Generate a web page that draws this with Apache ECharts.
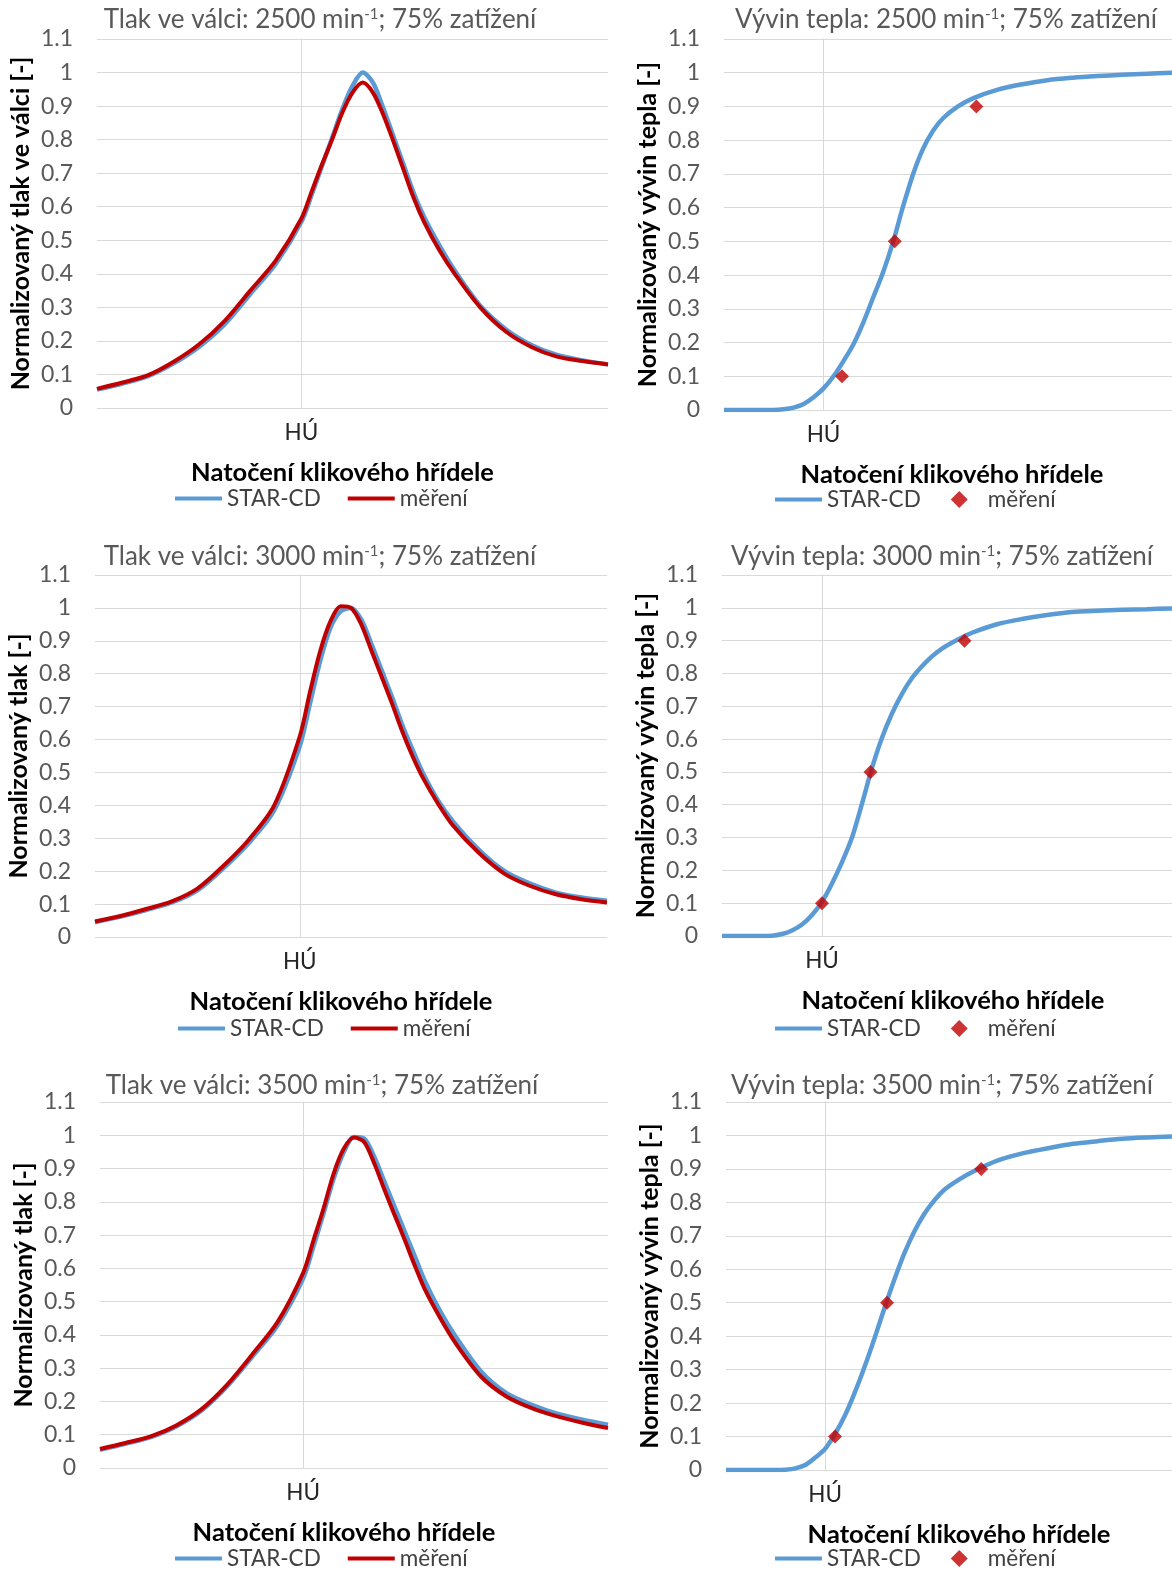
<!DOCTYPE html>
<html><head><meta charset="utf-8">
<script src="https://cdn.jsdelivr.net/npm/echarts@6/dist/echarts.min.js"></script>
<style>html,body{margin:0;padding:0;background:#fff}#c{width:1172px;height:1569px}</style>
</head><body><div id="c"></div>
<script>
// ---- data ----
const pressureAngles = [-40,-35,-30,-25,-20,-15,-10,-5,0,2,4,6,8,10,12,14,16,18,20,22,24,27,30,35,40,45,50,55,60];
const p2500Sim  = [0.055,0.073,0.095,0.133,0.183,0.25,0.34,0.43,0.555,0.635,0.72,0.805,0.89,0.96,1.0,0.97,0.895,0.81,0.725,0.64,0.57,0.485,0.41,0.305,0.235,0.188,0.158,0.142,0.13];
const p2500Meas = [0.057,0.076,0.098,0.138,0.19,0.26,0.35,0.44,0.565,0.645,0.725,0.80,0.88,0.94,0.97,0.94,0.875,0.795,0.71,0.625,0.555,0.47,0.40,0.30,0.228,0.182,0.153,0.14,0.13];
const p3000Sim  = [0.045,0.062,0.082,0.105,0.142,0.208,0.285,0.385,0.58,0.71,0.84,0.94,0.99,1.0,0.965,0.89,0.81,0.73,0.645,0.57,0.50,0.415,0.35,0.265,0.2,0.162,0.135,0.12,0.11];
const p3000Meas = [0.047,0.064,0.085,0.108,0.147,0.215,0.295,0.40,0.61,0.745,0.87,0.96,1.005,1.0,0.95,0.87,0.79,0.71,0.625,0.55,0.485,0.405,0.337,0.255,0.192,0.155,0.13,0.115,0.105];
const p3500Sim  = [0.055,0.073,0.093,0.125,0.173,0.245,0.335,0.43,0.57,0.665,0.765,0.87,0.95,0.995,0.99,0.935,0.86,0.785,0.71,0.635,0.56,0.47,0.395,0.29,0.225,0.19,0.163,0.145,0.13];
const p3500Meas = [0.057,0.075,0.095,0.128,0.177,0.25,0.342,0.44,0.587,0.683,0.78,0.885,0.96,0.993,0.98,0.915,0.836,0.76,0.685,0.607,0.535,0.45,0.375,0.275,0.215,0.18,0.155,0.136,0.12];

const heatAngles = [-20,-15,-10,-8,-6,-4,-2,0,2,4,6,8,10,12,14,16,18,20,22,24,27,30,35,40,45,50,55,60,65,70];
const h2500Sim = [0,0,0,0.002,0.007,0.018,0.038,0.064,0.1,0.145,0.195,0.26,0.335,0.41,0.50,0.605,0.70,0.775,0.828,0.865,0.90,0.924,0.95,0.966,0.978,0.985,0.99,0.994,0.997,1.0];
const h3000Sim = [0,0,0.001,0.006,0.017,0.035,0.064,0.104,0.16,0.225,0.30,0.403,0.512,0.604,0.678,0.738,0.786,0.822,0.852,0.876,0.902,0.924,0.95,0.966,0.978,0.987,0.991,0.994,0.996,0.998];
const h3500Sim = [0,0,0,0.001,0.005,0.015,0.037,0.063,0.108,0.163,0.232,0.31,0.395,0.485,0.57,0.648,0.713,0.765,0.805,0.837,0.868,0.893,0.926,0.947,0.962,0.975,0.983,0.99,0.994,0.997];
const heatMeasValues = [0.1, 0.5, 0.9];
const h2500MeasAngles = [3.7, 14.3, 30.7];
const h3000MeasAngles = [0, 9.7, 28.5];
const h3500MeasAngles = [2, 12.5, 31.5];

const yTickMax = 1.1, yTickStep = 0.1;
const tdcLabel = 'HÚ';
const xName = 'Natočení klikového hřídele';
const simName = 'STAR-CD', measName = 'měření';
const titles = [
  'Tlak ve válci: 2500 min{sup|-1}; 75% zatížení',
  'Vývin tepla: 2500 min{sup|-1}; 75% zatížení',
  'Tlak ve válci: 3000 min{sup|-1}; 75% zatížení',
  'Vývin tepla: 3000 min{sup|-1}; 75% zatížení',
  'Tlak ve válci: 3500 min{sup|-1}; 75% zatížení',
  'Vývin tepla: 3500 min{sup|-1}; 75% zatížení'
];
const yNames = [
  'Normalizovaný tlak ve válci [-]', 'Normalizovaný vývin tepla [-]',
  'Normalizovaný tlak [-]', 'Normalizovaný vývin tepla [-]',
  'Normalizovaný tlak [-]', 'Normalizovaný vývin tepla [-]'
];

// ---- layout / style ----
const FONT = 'Lato';
const BLUE = '#5B9BD5', RED = '#C00000';
const LINE_ICON = 'path://M0,0H100V9H0Z';
const DIAMOND_ICON = 'path://M6,0L12,6L6,12L0,6Z';
const layout = [
  {grid:{left:97, top:39, width:511, height:369}, xr:[-40,60,40], tx:320, ty:7,  leg:{left:175, top:487}, nameShift:-10},
  {grid:{left:724,top:39, width:448, height:371}, xr:[-20,70,20], tx:946, ty:7,  leg:{left:775, top:488}, nameShift:4},
  {grid:{left:95, top:575,width:512, height:362}, xr:[-40,60,40], tx:320, ty:544,leg:{left:178, top:1017}, nameShift:-10},
  {grid:{left:722,top:575,width:450, height:361}, xr:[-20,70,20], tx:942, ty:544,leg:{left:775, top:1017}, nameShift:6},
  {grid:{left:100,top:1102,width:508,height:366}, xr:[-40,60,40], tx:322, ty:1073,leg:{left:175, top:1547}, nameShift:-10},
  {grid:{left:726,top:1102,width:446,height:368}, xr:[-20,70,20], tx:942, ty:1073,leg:{left:775, top:1547}, nameShift:10}
];
const panelSeries = [
  {type:'p', x:pressureAngles, sim:p2500Sim, meas:p2500Meas},
  {type:'h', x:heatAngles, sim:h2500Sim, mx:h2500MeasAngles},
  {type:'p', x:pressureAngles, sim:p3000Sim, meas:p3000Meas},
  {type:'h', x:heatAngles, sim:h3000Sim, mx:h3000MeasAngles},
  {type:'p', x:pressureAngles, sim:p3500Sim, meas:p3500Meas},
  {type:'h', x:heatAngles, sim:h3500Sim, mx:h3500MeasAngles}
];

const option = {animation:false, backgroundColor:'#fff', grid:[], xAxis:[], yAxis:[], title:[], legend:[], series:[]};

panelSeries.forEach((ps, i) => {
  const L = layout[i];
  option.grid.push(Object.assign({containLabel:false, outerBoundsMode:'none'}, L.grid));
  const nTicks = Math.round((L.xr[1]-L.xr[0])/L.xr[2]) + 2;
  const splitColors = [];
  for (let k=0;k<nTicks;k++) splitColors.push(L.xr[0] + k*L.xr[2] === 0 ? '#BFBFBF' : 'rgba(0,0,0,0)');
  option.xAxis.push({
    type:'value', gridIndex:i, min:L.xr[0], max:L.xr[1], interval:L.xr[2],
    axisLine:{show:false}, axisTick:{show:false},
    splitLine:{show:true, lineStyle:{color:splitColors, width:1}},
    axisLabel:{formatter:v => v === 0 ? tdcLabel : '', color:'#262626', fontSize:22.5, fontFamily:FONT, margin:13},
    name:xName, nameLocation:'middle', nameGap:52,
    nameTextStyle:{fontFamily:FONT, fontSize:25.5, fontWeight:'bold', color:'#000', padding:[0, L.nameShift<0?-2*L.nameShift:0, 0, L.nameShift>0?2*L.nameShift:0]}
  });
  option.yAxis.push({
    type:'value', gridIndex:i, min:0, max:yTickMax, interval:yTickStep,
    axisLine:{show:true, lineStyle:{color:'#D9D9D9', width:1}}, axisTick:{show:false},
    splitLine:{show:true, lineStyle:{color:'#D9D9D9', width:1}},
    axisLabel:{color:'#595959', fontSize:23, fontFamily:FONT, margin:24},
    name:yNames[i], nameLocation:'middle', nameGap:64,
    nameTextStyle:{fontFamily:FONT, fontSize:25, fontWeight:'bold', color:'#000'}
  });
  option.title.push({
    text:titles[i], left:L.tx, top:L.ty, textAlign:'center', padding:0,
    textStyle:{fontFamily:FONT, fontSize:26, fontWeight:'normal', color:'#595959',
      rich:{sup:{fontFamily:FONT, fontSize:15, color:'#595959', verticalAlign:'top'}}}
  });
  const sName = simName + '#' + i, mName = measName + '#' + i;
  option.legend.push({
    left:L.leg.left, top:L.leg.top, orient:'horizontal', padding:0,
    itemWidth:47, itemHeight:17, itemGap: ps.type === 'p' ? 27 : 30,
    data:[{name:sName, icon:LINE_ICON}, {name:mName, icon: ps.type === 'p' ? LINE_ICON : DIAMOND_ICON}],
    selectedMode:false,
    formatter:n => n.replace(/#\d+$/, ''),
    textStyle:{fontFamily:FONT, fontSize:22.5, color:'#404040'}
  });
  option.series.push({
    name:sName, type:'line', xAxisIndex:i, yAxisIndex:i,
    data:ps.x.map((a,k)=>[a, ps.sim[k]]), smooth:0.3,
    symbol:'none', color:BLUE, lineStyle:{color:BLUE, width:4.5}, z:3
  });
  if (ps.type === 'p') {
    option.series.push({
      name:mName, type:'line', xAxisIndex:i, yAxisIndex:i,
      data:ps.x.map((a,k)=>[a, ps.meas[k]]), smooth:0.3,
      symbol:'none', color:RED, lineStyle:{color:RED, width:4}, z:4
    });
  } else {
    option.series.push({
      name:mName, type:'scatter', xAxisIndex:i, yAxisIndex:i,
      data:ps.mx.map((a,k)=>[a, heatMeasValues[k]]),
      symbol:'diamond', symbolSize:14, color:RED, itemStyle:{color:RED}, z:4
    });
  }
});

const chart = echarts.init(document.getElementById('c'), null, {renderer:'canvas'});
chart.setOption(option);
</script></body></html>
